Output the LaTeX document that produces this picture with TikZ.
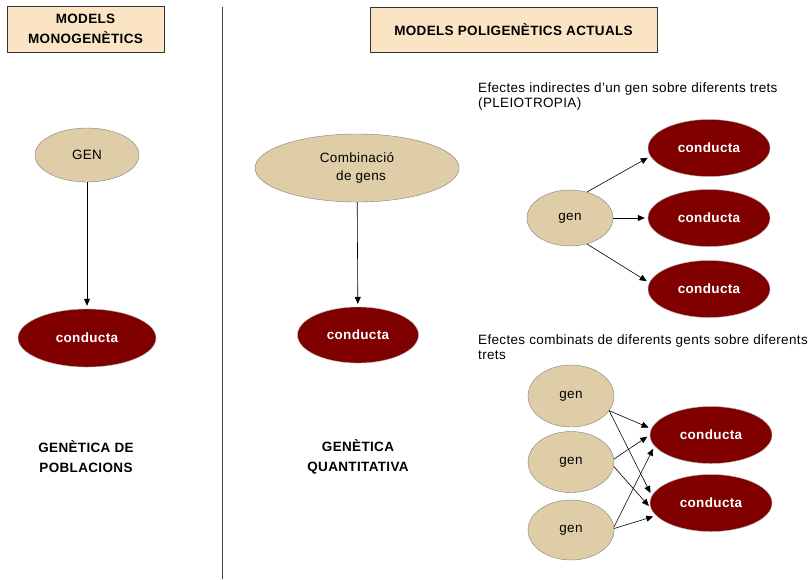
\documentclass[tikz,border=0pt]{standalone}
\usepackage{fontspec}
\setmainfont[LetterSpace=2.5]{Liberation Sans}
\usetikzlibrary{shapes.geometric,arrows.meta}
\definecolor{boxfill}{RGB}{250,228,196}
\definecolor{tanfill}{RGB}{223,205,168}
\definecolor{dred}{RGB}{128,0,0}
\begin{document}
\begin{tikzpicture}[x=1pt,y=-1pt,
  hdr/.style={draw=black!80,fill=boxfill,line width=0.9pt,align=center,inner sep=0,
    font=\fontsize{13.5}{20}\selectfont\bfseries},
  tanell/.style={ellipse,draw=gray,fill=tanfill,inner sep=0,align=center,
    font=\fontsize{13.5}{18}\selectfont},
  redell/.style={ellipse,draw=gray!60,fill=dred,inner sep=0,text=white,
    font=\fontsize{13.5}{15}\selectfont\bfseries},
  lbl/.style={align=center,inner sep=0,font=\fontsize{13.5}{20}\selectfont\bfseries},
  note/.style={align=left,inner sep=0,anchor=north west,font=\fontsize{13.5}{15}\selectfont},
  arr/.style={-{Triangle[length=7pt,width=6pt]},line width=0.6pt,shorten >=3pt},
]
\useasboundingbox (0,0) rectangle (808,579);
\fill[white] (0,0) rectangle (808,579);

% headers
\node[hdr,minimum width=157,minimum height=46] (h1) at (85.5,29) {MODELS\\MONOGENÈTICS};
\node[hdr,minimum width=287,minimum height=45] (h2) at (513.5,29.5) {MODELS POLIGENÈTICS ACTUALS};

% divider
\coordinate (vt) at (222,7);
\coordinate (vb) at (222,579);
\draw[black!75,line width=0.9pt] (vt) -- (vb);

% monogenetic
\node[tanell,minimum width=104,minimum height=54] (gen) at (87,155) {GEN};
\node[redell,minimum width=138,minimum height=58] (c1) at (87,338) {conducta};
\draw[arr] (gen) -- (c1);
\node[lbl] (l1) at (86,457) {GENÈTICA DE\\POBLACIONS};

% quantitative
\node[tanell,minimum width=204,minimum height=68] (comb) at (357,168) {Combinació\\\ \ de gens};
\node[redell,minimum width=121,minimum height=56] (c2) at (358,335) {conducta};
\draw[arr] (comb) -- (c2);
\node[lbl] (l2) at (358,457) {GENÈTICA\\QUANTITATIVA};

% pleiotropy
\node[note] (n1) at (478,83) {Efectes indirectes d'un gen sobre diferents trets\\(PLEIOTROPIA)};
\node[tanell,minimum width=86,minimum height=56] (pg) at (570,218) {gen};
\node[redell,minimum width=122,minimum height=57] (pc1) at (709,148) {conducta};
\node[redell,minimum width=122,minimum height=57] (pc2) at (709,218) {conducta};
\node[redell,minimum width=122,minimum height=57] (pc3) at (709,289) {conducta};
\draw[arr] (pg.57) -- (pc1.188);
\draw[arr] (pg.east) -- (pc2.west);
\draw[arr] (pg.-57) -- (pc3.174);

% combined
\node[note] (n2) at (478,335) {Efectes combinats de diferents gents sobre diferents\\trets};
\node[tanell,minimum width=86,minimum height=62] (g1) at (571,396) {gen};
\node[tanell,minimum width=86,minimum height=61] (g2) at (571,462) {gen};
\node[tanell,minimum width=86,minimum height=60] (g3) at (571,530) {gen};
\node[redell,minimum width=122,minimum height=57] (k1) at (711,435) {conducta};
\node[redell,minimum width=122,minimum height=57] (k2) at (711,503) {conducta};
\draw[arr] (g1.-21) -- (k1.174);
\draw[arr] (g1.-21) -- (k2.173);
\draw[arr] (g2.4) -- (k1.180);
\draw[arr] (g2.-6) -- (k2.185);
\draw[arr] (g3.4) -- (k1.191);
\draw[arr] (g3.2) -- (k2.193);
\end{tikzpicture}
\end{document}
